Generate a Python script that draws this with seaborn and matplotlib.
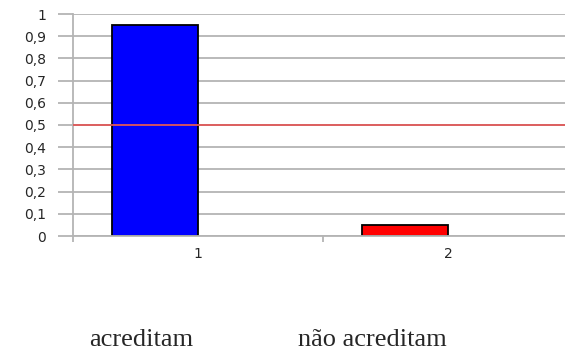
import numpy as np
import pandas as pd
import matplotlib
matplotlib.use("Agg")
import matplotlib.pyplot as plt
import seaborn as sns

# Proportions per group
categories = ["1", "2"]
proportions = [0.95, 0.05]
bar_colors = ["#0000FF", "#FF0000"]
y_ticks = [0, 0.1, 0.2, 0.3, 0.4, 0.5, 0.6, 0.7, 0.8, 0.9, 1.0]
y_tick_labels = ["0", "0,1", "0,2", "0,3", "0,4", "0,5", "0,6", "0,7", "0,8", "0,9", "1"]
threshold = 0.5
group_labels = ["acreditam", "não acreditam"]

sns.set_theme(style="white")
plt.rcParams["font.family"] = ["DejaVu Sans"]

df = pd.DataFrame({
    "grupo": categories + categories,
    "serie": ["a"] * 2 + ["b"] * 2,
    "valor": proportions + [np.nan, np.nan],
})

fig = plt.figure(figsize=(5.65, 3.51), dpi=100)
# the plot area continues past the right edge of the figure
ax = fig.add_axes([73 / 565, 1 - 236 / 351, 500 / 565, 222 / 351])

grid_c = "#b4b4b4"
ax.set_axisbelow(True)
for v in y_ticks:
    ax.axhline(v, color=grid_c, lw=1.3, zorder=0)

sns.barplot(data=df, x="grupo", y="valor", hue="serie", hue_order=["a", "b"],
            order=categories, width=0.69, dodge=True, legend=False,
            palette=["#0000FF", "#0000FF"], edgecolor="black", linewidth=1.3,
            ax=ax, zorder=2)

bars = [p for p in ax.patches if np.isfinite(p.get_height()) and p.get_height() > 0]
bars.sort(key=lambda p: p.get_x())
for p, c in zip(bars, bar_colors):
    p.set_facecolor(c)

ax.axhline(threshold, color="#e05858", lw=1.3, zorder=3)

ax.set_xlim(-0.5, 1.5)
ax.set_ylim(0, 1)
ax.set_yticks(y_ticks)
ax.set_yticklabels(y_tick_labels, fontsize=10)
ax.set_xticks([0, 1])
ax.set_xticklabels(categories, fontsize=10)
ax.set_xticks([-0.5, 0.5, 1.5], minor=True)
ax.tick_params(axis="y", which="major", left=True, length=11, width=1.3,
               color=grid_c, pad=8.5)
ax.tick_params(axis="x", which="major", bottom=False, length=0, pad=8)
ax.tick_params(axis="x", which="minor", bottom=True, length=4, width=1.3,
               color=grid_c)
ax.set_xlabel("")
ax.set_ylabel("")
for s in ["top", "right"]:
    ax.spines[s].set_visible(False)
ax.spines["left"].set_color(grid_c)
ax.spines["left"].set_linewidth(1.3)
ax.spines["bottom"].set_color(grid_c)
ax.spines["bottom"].set_linewidth(1.3)

fig.text(141 / 565, 1 - 346 / 351, group_labels[0], ha="center", va="baseline",
         fontsize=19, family=["Liberation Serif", "DejaVu Serif"])
fig.text(372 / 565, 1 - 346 / 351, group_labels[1], ha="center", va="baseline",
         fontsize=19, family=["Liberation Serif", "DejaVu Serif"])

fig.savefig("out.png", dpi=100)
